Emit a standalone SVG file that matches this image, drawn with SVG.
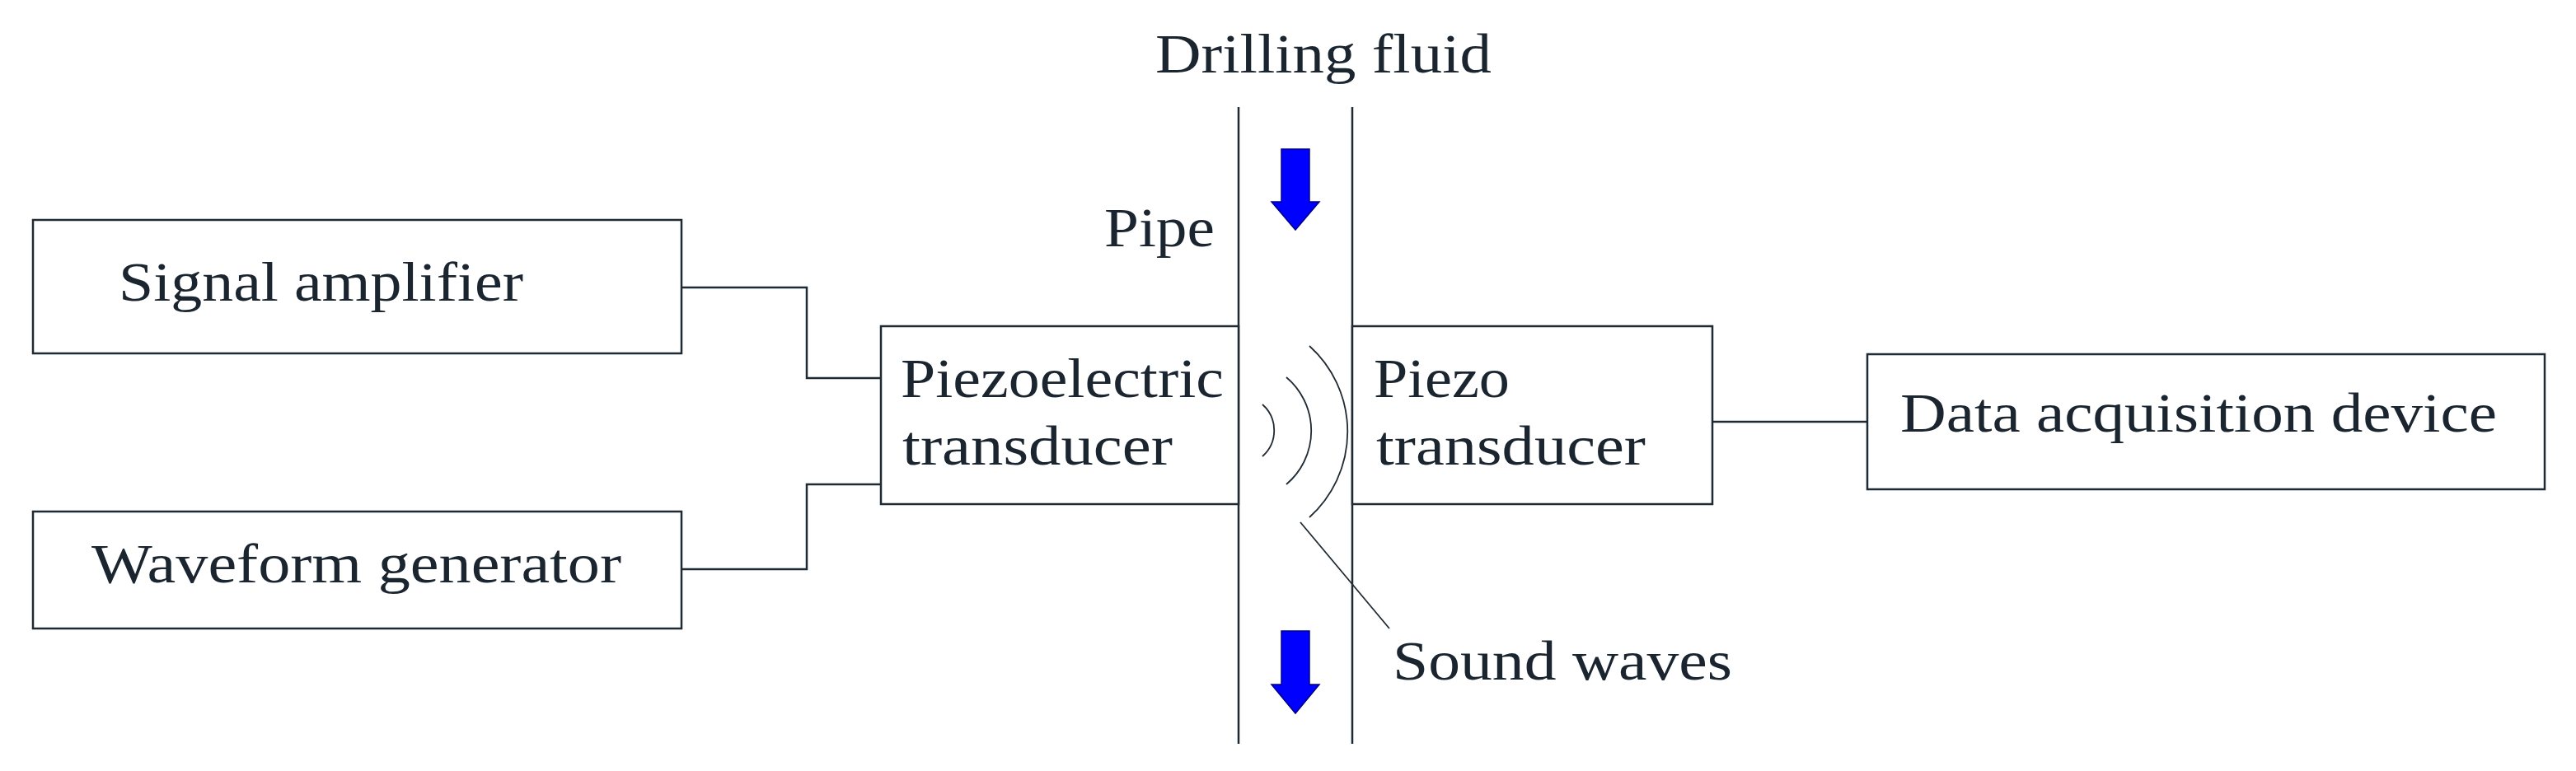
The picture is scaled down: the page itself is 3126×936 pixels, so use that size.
<svg xmlns="http://www.w3.org/2000/svg" width="3126" height="936" viewBox="0 0 3126 936">
<style>
.b{fill:#fff;stroke:#1f2a33;stroke-width:2.5}
.l{fill:none;stroke:#1f2a33;stroke-width:2.5}
.w{fill:none;stroke:#1f2a33;stroke-width:1.8}
.t{font-family:"Liberation Serif",serif;font-size:68px;fill:#1a2530}
.a{fill:#0000ff;stroke:#00008b;stroke-width:1.5}
</style>
<rect width="3126" height="936" fill="#fff"/>
<g id="connectors">
<polyline class="l" points="827,349 979,349 979,459 1069,459"/>
<polyline class="l" points="827,691 979,691 979,588 1069,588"/>
<line class="l" x1="2078" y1="512" x2="2266" y2="512"/>
<line class="w" x1="1578" y1="634" x2="1686" y2="763"/>
</g>
<g id="pipe">
<line class="l" x1="1503" y1="130" x2="1503" y2="903"/>
<line class="l" x1="1641" y1="130" x2="1641" y2="903"/>
<polygon class="a" points="1555,181 1589,181 1589,245 1601,245 1572,279 1543,245 1555,245"/>
<polygon class="a" points="1555,766 1589,766 1589,831 1601,831 1572,866 1543,831 1555,831"/>
<text class="t" x="1340" y="299" textLength="134" lengthAdjust="spacingAndGlyphs">Pipe</text>
</g>
<g id="drilling-fluid"><text class="t" x="1402" y="88" textLength="408" lengthAdjust="spacingAndGlyphs">Drilling fluid</text></g>
<g id="signal-amplifier">
<rect class="b" x="40" y="267" width="787" height="162"/>
<text class="t" x="144" y="365" textLength="491" lengthAdjust="spacingAndGlyphs">Signal amplifier</text>
</g>
<g id="waveform-generator">
<rect class="b" x="40" y="621" width="787" height="142"/>
<text class="t" x="111" y="707" textLength="643" lengthAdjust="spacingAndGlyphs">Waveform generator</text>
</g>
<g id="piezoelectric-transducer">
<rect class="b" x="1069" y="396" width="434" height="216"/>
<text class="t" x="1093" y="482" textLength="392" lengthAdjust="spacingAndGlyphs">Piezoelectric</text>
<text class="t" x="1095" y="564" textLength="328" lengthAdjust="spacingAndGlyphs">transducer</text>
</g>
<g id="piezo-transducer">
<rect class="b" x="1641" y="396" width="437" height="216"/>
<text class="t" x="1667" y="482" textLength="165" lengthAdjust="spacingAndGlyphs">Piezo</text>
<text class="t" x="1670" y="564" textLength="327" lengthAdjust="spacingAndGlyphs">transducer</text>
</g>
<g id="data-acquisition-device">
<rect class="b" x="2266" y="430" width="822" height="164"/>
<text class="t" x="2306" y="524" textLength="724" lengthAdjust="spacingAndGlyphs">Data acquisition device</text>
</g>
<g id="sound-waves">
<path class="w" d="M1589,420 A140,140 0 0 1 1589,628"/>
<path class="w" d="M1561,458 A85,85 0 0 1 1561,588"/>
<path class="w" d="M1532,491 A42,42 0 0 1 1532,554"/>
<text class="t" x="1690" y="825" textLength="412" lengthAdjust="spacingAndGlyphs">Sound waves</text>
</g>
</svg>
